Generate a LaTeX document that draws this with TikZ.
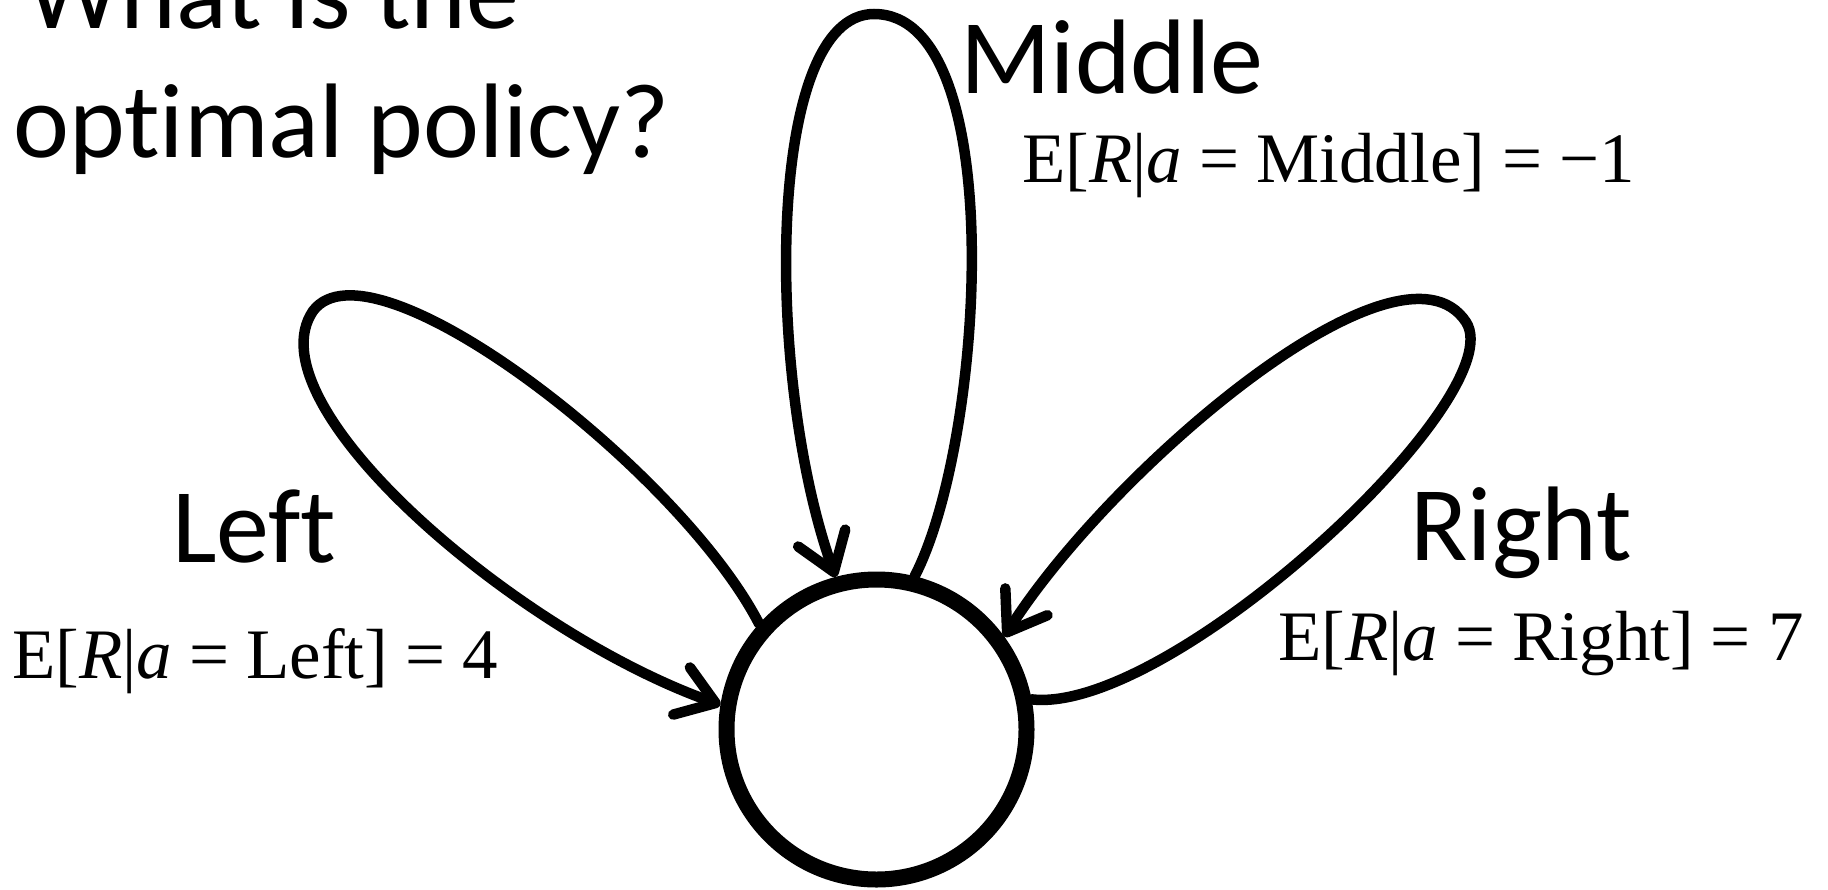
\documentclass[tikz,border=0pt]{standalone}
\usepackage{fontspec}
\setmainfont{Carlito}[Ligatures=NoCommon]
\newfontfamily\mfont{Liberation Serif}[Ligatures=NoCommon]
\usetikzlibrary{arrows.meta}
\newcommand{\eqsign}{\hspace{0.24em}=\hspace{0.24em}}
\begin{document}
\begin{tikzpicture}[x=1pt,y=-1pt]
\tikzset{
  big/.style={font=\fontsize{106}{127}\selectfont, inner sep=0pt, anchor=base west},
  eq/.style={font=\mfont\fontsize{71}{85}\selectfont, inner sep=0pt, anchor=base west},
  selfloop/.style={line width=10.5pt, line cap=round, -{Straight Barb[length=36pt,width=50pt,round]}},
  statenode/.style={circle, draw, line width=16pt, minimum size=300pt, inner sep=0pt}
}
\useasboundingbox (0,0) rectangle (1828,889);
\clip (0,0) rectangle (1828,889);
\fill[white] (0,0) rectangle (1828,889);

\node[big] (t1) at (26,28) {What is the};
\node[big] (t2) at (13,157) {optimal policy?};

\node[big] (lm) at (960,93) {Middle};
\node[big] (ll) at (172,562) {Left};
\node[big] (lr) at (1410,560) {Right};

\node[eq] (em) at (1022,182) {E[\textit{R}|\textit{a}\eqsign Middle]\eqsign −1};
\node[eq] (el) at (12,678) {E[\textit{R}|\textit{a}\eqsign Left]\eqsign 4};
\node[eq] (er) at (1278,660) {E[\textit{R}|\textit{a}\eqsign Right]\eqsign 7};

\node[statenode] (s) at (876.5,729.5) {};

\coordinate (mtop) at (874,14);
\coordinate (ltop) at (313,311);
\coordinate (rtop) at (1466,322);

\draw[selfloop] (s.76) .. controls (985,440) and (1010,14) .. (mtop)
   .. controls (765,14) and (765,380) .. (s.105);
\draw[selfloop] (s.138) .. controls (680,470) and (372,232) .. (ltop)
   .. controls (250,404) and (515,632) .. (s.171);
\draw[selfloop] (s.11) .. controls (1170,715) and (1514,396) .. (rtop)
   .. controls (1400,222) and (1110,470) .. (s.36);
\end{tikzpicture}
\end{document}
